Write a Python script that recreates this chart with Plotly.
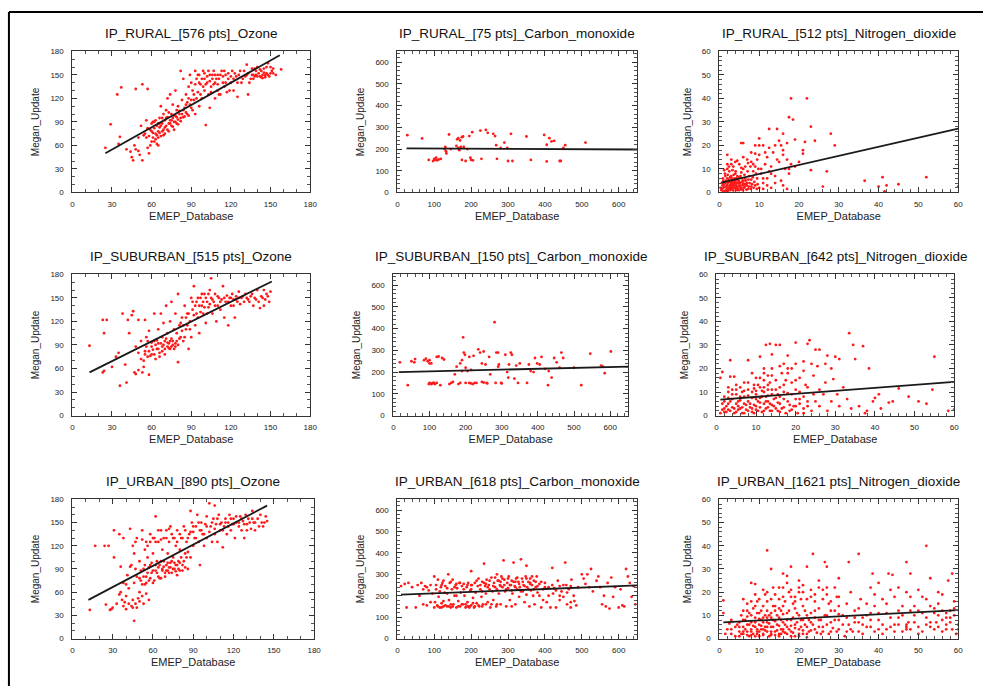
import plotly.graph_objects as go

# ---------------- data ----------------
rural_o3 = [(25,57),(29,87),(34,125),(37,134),(35,62),(36,71),(41,55),(45,45),(46,41),(48,132),(48,55),(50,53),(51,48),(53,138),(53,41),(54,73),(55,75),(56,92),(57,132),(57,57),(58,50),(59,60),(60,78),(60,88),(61,70),(62,82),(62,65),(63,75),(63,92),(64,62),(64,85),(65,70),(65,78),(66,95),(66,83),(67,72),(67,110),(68,88),(69,100),(69,80),(70,92),(70,75),(71,85),(71,105),(72,96),(72,120),(73,88),(73,78),(74,92),(74,125),(75,100),(75,85),(76,95),(76,112),(77,90),(77,80),(78,98),(78,130),(79,105),(79,88),(80,93),(80,110),(81,100),(82,155),(82,95),(83,118),(84,105),(84,145),(85,97),(86,125),(86,112),(87,100),(88,135),(88,120),(89,150),(90,108),(90,140),(91,130),(92,118),(93,155),(93,100),(94,145),(95,128),(96,150),(96,110),(97,138),(98,120),(99,155),(100,145),(100,130),(101,86),(102,140),(103,125),(104,150),(104,108),(105,135),(106,145),(107,155),(108,120),(108,140),(110,150),(110,130),(111,145),(112,125),(113,155),(114,140),(115,135),(116,150),(117,128),(118,145),(120,140),(121,155),(122,130),(124,148),(125,122),(126,150),(128,140),(130,155),(131,148),(132,163),(133,125),(133,152),(135,145),(136,158),(137,150),(138,148),(139,155),(140,160),(141,152),(142,148),(143,155),(144,150),(145,158),(146,147),(147,152),(148,165),(148,150),(150,160),(151,155),(152,152),(154,150),(158,157)]
rural_o3_more = [(58,72),(59,80),(61,76),(62,90),(63,68),(64,73),(65,88),(66,76),(67,85),(68,78),(68,95),(69,73),(70,83),(71,95),(72,80),(73,102),(74,88),(75,92),(76,84),(77,98),(78,90),(79,96),(80,87),(81,104),(82,91),(83,100),(84,96),(85,108),(86,102),(87,115),(88,98),(89,112),(90,118),(91,105),(92,125),(93,138),(94,120),(95,150),(96,140),(97,125),(98,145),(99,135),(100,152),(101,138),(102,148),(103,155),(104,142),(105,128),(106,150),(107,138),(108,150),(109,145),(110,138),(111,125),(112,150),(114,148),(115,155),(116,140),(118,152),(119,130),(120,148),(122,145),(123,152),(125,140),(127,155),(129,145),(132,150),(134,140),(136,150),(138,158),(140,148),(142,157),(144,146),(146,150),(147,160),(149,148),(150,152),(152,158),(145,153),(143,147),(139,150),(137,145),(56,70),(57,82),(60,65),(61,90),(65,60),(66,88),(52,85),(50,70),(47,60),(44,52)]
rural_o3_fit_x = [25, 157]
rural_o3_fit_y = [50, 175]

rural_co = [(27,264),(67,249),(85,150),(97,145),(100,155),(103,150),(105,160),(108,148),(112,152),(118,155),(128,200),(130,210),(132,190),(133,180),(140,267),(145,200),(160,215),(162,245),(165,250),(165,205),(167,200),(168,195),(170,240),(172,210),(175,255),(178,258),(175,150),(180,210),(185,145),(190,200),(195,260),(198,160),(200,150),(203,278),(205,148),(225,285),(228,155),(240,288),(245,275),(260,270),(265,260),(268,218),(270,155),(280,205),(290,230),(298,205),(300,145),(308,270),(312,145),(350,258),(362,150),(398,265),(405,220),(405,143),(412,250),(418,235),(425,238),(440,145),(443,145),(450,205),(455,218),(510,230)]
rural_co_more = []
rural_co_fit_x = [25, 650]
rural_co_fit_y = [203, 198]

rural_no2 = [(18,40),(22,40),(17.5,32),(18.5,31),(23,28),(28,25),(24,22),(29,20),(27,9),(23,9.5),(26,2.5),(36.5,5),(40,2.5),(41,6.5),(42,3),(41.5,0.5),(45,3.5),(52,6.5),(60,2.5),(21,18),(21,16.5),(21.5,21.5),(19,22.5),(16,25),(17,21),(12.5,27),(14.5,27),(14,20),(15,22),(10,23),(11,20),(9,20),(12,15),(8,13),(6,21),(5.5,21),(2,16),(3,14),(17.5,10),(17,1.5),(18,12),(13,2),(11,1.5),(16,3),(17.5,8),(0.5,1),(0.8,3),(1,2),(1,5),(1.2,0.5),(1.5,4),(1.5,7),(1.8,2),(2,3),(2,6),(2.2,1),(2.5,4.5),(2.5,9),(2.8,2.5),(3,5),(3,1.5),(3,7),(3.2,3.5),(3.5,4),(3.5,11),(3.5,0.8),(3.8,6),(4,2),(4,4.5),(4,8),(4.2,3),(4.5,5.5),(4.5,1),(4.8,3.8),(5,2.5),(5,6.5),(5,12),(5.2,4),(5.5,1.5),(5.5,8.5),(5.8,3),(6,5),(6,10),(6.2,2),(6.5,6),(6.5,3.5),(7,4),(7,14),(7.2,1.5),(7.5,7),(8,2.5),(8,5.5),(8.5,9),(9,3),(9,11),(9.5,6),(10,2),(10,16),(10.5,8),(11,4),(11.5,12),(12,6),(12.5,9),(13,11),(13.5,17),(14,7),(15,13),(15.5,5),(16,18),(16.5,10),(17,14),(19,11),(20,13),(3,12),(2,10),(4.5,13.5),(6.5,11),(8,17),(9.5,14),(1,0.3),(2,0.5),(3.5,2.5),(4.5,7),(5.5,2),(6,3.5),(3,3),(2.5,2),(4,5),(5,1),(3.7,4),(4.3,1.7),(2.7,6.5)]
rural_no2_more = [(0.3,2),(0.6,4),(0.7,1.5),(0.9,6),(1.1,3.5),(1.3,2.5),(1.4,8),(1.6,1),(1.7,5),(1.9,3),(2.1,4),(2.1,7.5),(2.3,2),(2.4,5.5),(2.6,3),(2.7,1),(2.9,4),(3.1,6),(3.1,2.2),(3.3,4.8),(3.4,1.2),(3.6,3.2),(3.6,7.5),(3.8,2),(3.9,5),(4.1,3.8),(4.1,9),(4.3,6),(4.4,2.5),(4.6,4.2),(4.7,1.5),(4.9,5),(5.1,3),(5.3,7),(5.4,2),(5.6,4.5),(5.7,6),(5.9,1),(6.1,3.8),(6.3,7.5),(6.4,2.5),(6.6,5),(6.8,1.2),(6.9,3),(7.1,9),(7.3,5.5),(7.4,2.5),(7.6,4),(7.8,11),(7.9,1.5),(8.2,3.5),(8.4,6.5),(8.6,2),(8.8,4.5),(9.2,8),(9.4,1.5),(9.6,3.5),(9.8,10),(2,12),(4,13),(6,15),(8.5,12),(3.3,9.5),(5.5,10.5),(1.2,9.5),(2.4,11),(7.2,12.5),(11,6),(12,3),(13,8),(14,4),(10.5,10),(11.5,17),(12.5,19),(14.5,14),(15.5,20),(16,16),(9,16.5),(10,20)]
rural_no2_fit_x = [0.5, 60]
rural_no2_fit_y = [4.2, 27.2]

suburban_o3 = [(13,89),(23,122),(24,105),(26,122),(23,55),(24,57),(30,62),(33,75),(35,80),(36,38),(38,130),(40,65),(41,42),(42,122),(43,105),(45,128),(46,133),(47,55),(48,53),(48,88),(50,122),(50,80),(52,95),(53,55),(54,70),(55,82),(55,122),(56,100),(57,75),(58,52),(58,108),(60,88),(60,78),(62,95),(62,130),(63,72),(64,85),(65,110),(65,92),(66,80),(67,130),(68,88),(68,100),(69,118),(70,95),(70,78),(71,140),(72,105),(72,88),(73,92),(74,120),(74,85),(75,98),(75,145),(76,90),(77,110),(78,88),(78,130),(79,95),(80,68),(80,155),(81,115),(82,100),(83,125),(84,95),(85,140),(86,110),(87,130),(88,85),(89,120),(90,150),(90,100),(91,135),(92,165),(93,115),(94,145),(95,125),(96,105),(97,150),(98,140),(99,130),(100,155),(101,118),(102,145),(103,138),(104,160),(105,175),(105,150),(106,130),(107,145),(108,155),(109,120),(110,140),(111,150),(112,135),(113,148),(114,165),(115,125),(116,145),(117,153),(118,115),(119,150),(120,140),(121,155),(122,148),(123,125),(124,152),(125,145),(126,158),(128,150),(130,145),(131,155),(133,148),(135,152),(137,140),(138,150),(140,160),(141,145),(142,137),(144,150),(145,140),(146,148),(148,152),(150,158)]
suburban_o3_more = [(55,78),(56,88),(57,95),(58,82),(59,76),(60,93),(61,84),(62,78),(63,90),(64,96),(65,85),(66,75),(67,92),(68,82),(69,90),(70,85),(71,98),(72,93),(73,86),(74,95),(75,88),(76,95),(77,85),(78,92),(79,105),(80,90),(81,98),(82,118),(83,108),(84,115),(85,100),(86,125),(87,115),(88,130),(89,110),(91,145),(92,128),(93,140),(94,130),(95,150),(96,140),(97,132),(98,155),(99,145),(100,138),(101,150),(102,130),(103,155),(104,142),(106,148),(108,140),(110,152),(112,145),(115,150),(118,145),(120,150),(122,140),(124,148),(126,150),(127,142),(129,152),(132,150),(134,145),(136,155),(139,148),(143,152),(145,160),(147,155),(149,145),(52,72),(50,58),(54,62)]
suburban_o3_fit_x = [13, 151]
suburban_o3_fit_y = [55, 171]

suburban_co = [(18,245),(40,140),(50,250),(58,245),(60,260),(85,255),(90,262),(95,250),(100,240),(100,255),(105,240),(100,150),(103,148),(105,145),(108,148),(112,150),(115,145),(120,270),(125,272),(130,140),(135,265),(140,258),(155,145),(165,155),(170,190),(175,225),(180,145),(185,240),(190,255),(193,360),(195,290),(198,280),(200,220),(200,150),(205,205),(210,270),(215,210),(220,145),(222,275),(225,150),(235,305),(240,290),(245,240),(250,295),(255,235),(258,150),(265,270),(268,190),(280,430),(283,150),(285,290),(290,225),(292,235),(298,150),(310,280),(315,200),(318,175),(320,235),(325,290),(328,280),(335,170),(340,230),(345,150),(350,240),(370,150),(375,235),(380,205),(388,200),(392,265),(398,240),(405,235),(410,270),(420,215),(428,140),(430,205),(438,175),(445,265),(452,245),(465,290),(470,265),(520,140),(545,285),(575,230),(580,225),(585,195),(602,295),(500,220),(460,220)]
suburban_co_more = [(98,145),(110,150),(210,150),(215,148),(230,150),(250,152),(260,148),(300,148),(120,150),(190,205),(245,155),(290,290),(185,150),(160,150)]
suburban_co_fit_x = [15, 650]
suburban_co_fit_y = [200, 225]

suburban_no2 = [(33.5,35),(34.5,30),(35,24),(37,29.5),(38.5,20),(55,25),(54.5,11),(46,11.5),(48.5,8),(51,6),(53,5),(58.5,2),(60,2.5),(43.5,5.5),(44.5,6),(41.5,3),(41,9),(40,7.5),(39.5,6),(37.5,1),(38,2),(36,4),(33,7),(34,3),(30.5,9),(31,4),(27,9),(28,2),(29,6),(29.5,15.5),(29,20),(31,24),(30,25),(28,25.5),(27.5,22),(25,28),(26,28),(23.5,32),(23,30.5),(24,22),(25.5,21),(22,19),(22.5,13),(20,31),(19,20),(18,25.5),(17,22),(16,30),(15,30),(13.5,30.5),(12.5,30),(8,23.5),(3.5,23.5),(1,16),(1.5,18.5),(3.5,16.5),(4.5,16.5),(9,18),(11,25),(12,20),(14,26),(15,15),(16,12),(18,18),(20,15),(21,10),(23,12),(24.5,17),(26,11),(27.5,14),(32,12),(1,1),(1.5,5),(2,3),(2,8),(2.5,1.5),(3,5),(3,10),(3.5,2),(4,7),(4,3.5),(4.5,1),(5,5),(5,9),(5.5,2.5),(6,6.5),(6,12),(6.5,3.5),(7,1),(7,8),(7.5,4.5),(8,2),(8,6),(8,11),(8.5,3.5),(9,7.5),(9,1.5),(9.5,4.5),(10,9),(10,2.5),(10.5,6),(10.5,13),(11,3.5),(11,7.5),(11.5,1.5),(11.5,10.5),(12,5),(12,15),(12.5,3),(12.5,8),(13,6),(13,11),(13.5,2),(14,4.5),(14,9),(14.5,7),(15,3),(15,11),(15.5,5.5),(16,8),(16,1.5),(17,3.5),(17,10),(18,6),(18.5,2),(19,9),(19.5,4),(20,7),(20.5,1),(21,5),(22,3),(23,6),(24,2),(24.5,9),(26,4),(16.5,18),(14,20),(13,17),(11,16),(9.5,13),(7,14),(5,11),(3,12),(6.5,10),(10,10.5),(12,12),(13.5,14),(17.5,15)]
suburban_no2_more = [(2,1.5),(2.5,4),(3,2.5),(3.5,6),(4,9),(4.5,3),(5,1.5),(5.5,6),(6,3),(6.5,1),(7,5),(7,10.5),(7.5,2.5),(8,8.5),(8.5,5),(9,3),(9,10),(9.5,1),(10,4),(10,7),(10.5,2),(11,5.5),(11,12),(11.5,8),(12,2),(12,10),(12.5,6),(13,3.5),(13,8.5),(13.5,5),(14,2),(14,11),(14.5,4),(15,7.5),(15.5,2),(15.5,9),(16,5),(16.5,3),(17,7),(17.5,1),(18,9.5),(18.5,4.5),(19,2.5),(20,4),(20,11),(21,7),(22,1),(22,8),(23,4),(25,6),(6,8),(5,13),(8,14),(10,16),(12,18),(14,17),(16,21),(18,20),(20,22),(22,23),(19,14),(21,16),(17,13),(13,13),(9.5,11.5),(4,11),(2,6),(1.5,2.5),(3,7.5),(5.5,4)]
suburban_no2_fit_x = [1, 60]
suburban_no2_fit_y = [6.8, 14.3]

urban_o3 = [(13,37),(17,120),(24,120),(25,44),(27,120),(28,37),(29,38),(30,40),(31,105),(31,140),(33,45),(35,135),(35,57),(36,93),(37,50),(38,130),(38,72),(39,47),(40,38),(40,55),(41,82),(42,65),(43,142),(43,93),(44,42),(45,40),(45,120),(46,72),(46,23),(47,45),(47,90),(48,130),(48,80),(49,52),(50,60),(50,100),(51,75),(52,55),(52,140),(53,90),(54,70),(55,80),(55,125),(56,105),(57,50),(57,75),(58,95),(58,135),(59,85),(60,72),(60,110),(61,130),(62,88),(62,158),(63,100),(64,80),(64,125),(65,95),(66,140),(66,78),(67,90),(67,115),(68,130),(68,100),(69,85),(70,95),(70,140),(71,110),(71,88),(72,125),(72,92),(73,98),(73,145),(74,85),(75,105),(75,130),(76,90),(77,120),(77,95),(78,82),(78,140),(79,100),(80,88),(80,115),(81,130),(82,95),(83,145),(84,110),(85,125),(86,90),(87,135),(88,165),(88,105),(89,150),(90,120),(90,138),(91,130),(92,145),(93,160),(94,125),(95,140),(95,95),(96,150),(97,135),(98,120),(99,148),(100,158),(100,130),(102,175),(103,145),(104,125),(105,155),(106,172),(106,135),(107,148),(108,125),(109,160),(110,140),(111,150),(112,118),(113,145),(114,155),(115,135),(116,150),(117,160),(118,140),(119,148),(120,155),(121,130),(122,150),(124,145),(125,158),(126,140),(127,152),(128,130),(129,160),(130,148),(131,155),(133,142),(134,165),(135,150),(136,140),(138,155),(140,160),(141,150),(142,145),(144,158),(145,152)]
urban_o3_more = [(50,78),(51,88),(52,70),(53,80),(54,95),(55,72),(56,85),(57,92),(58,78),(59,98),(60,88),(61,75),(62,95),(63,85),(64,92),(65,78),(66,100),(67,88),(68,93),(69,80),(70,88),(71,98),(72,85),(73,92),(74,100),(75,90),(76,98),(77,87),(78,95),(79,90),(80,98),(81,105),(82,88),(83,100),(84,92),(85,105),(86,112),(55,58),(53,45),(50,48),(48,40),(45,50),(42,45),(40,70),(38,42),(36,60),(60,130),(62,125),(64,140),(66,128),(70,130),(72,142),(74,135),(76,130),(78,125),(80,135),(82,130),(84,140),(86,130),(88,138),(90,145),(92,130),(94,150),(96,140),(98,135),(100,145),(102,138),(104,150),(106,142),(108,155),(110,148),(112,140),(114,150),(116,145),(118,155),(120,148),(122,158),(124,150),(126,155),(128,148),(130,140),(132,150),(134,155),(136,150),(139,145),(143,150),(56,120),(58,125),(54,115),(52,128),(47,125),(46,110),(44,95)]
urban_o3_fit_x = [12, 145]
urban_o3_fit_y = [50, 172]

urban_co = [(10,245),(20,255),(25,145),(30,260),(40,240),(50,145),(55,250),(60,200),(65,260),(70,160),(75,245),(80,155),(85,225),(90,250),(95,210),(100,145),(100,290),(102,170),(105,250),(108,155),(110,275),(112,195),(115,145),(118,240),(120,165),(122,260),(125,150),(128,215),(130,245),(135,150),(138,300),(140,180),(142,260),(145,145),(148,230),(150,275),(152,160),(155,200),(158,250),(160,145),(162,235),(165,175),(168,260),(170,150),(172,215),(175,245),(178,160),(180,255),(182,200),(185,145),(188,240),(190,170),(192,260),(195,150),(198,225),(200,315),(200,155),(202,250),(205,190),(208,145),(210,260),(212,215),(215,165),(218,245),(220,280),(222,150),(225,230),(228,195),(230,265),(232,160),(235,350),(238,245),(240,210),(242,275),(245,170),(248,250),(250,230),(252,145),(255,285),(258,220),(260,180),(262,260),(265,240),(268,150),(270,300),(272,270),(275,210),(278,250),(280,160),(282,290),(285,240),(288,365),(290,275),(292,220),(295,150),(298,260),(300,235),(302,290),(305,180),(308,250),(310,270),(312,210),(315,355),(318,245),(320,160),(322,280),(325,230),(328,265),(330,195),(332,240),(335,370),(338,280),(340,220),(342,250),(345,170),(348,290),(350,340),(352,240),(355,265),(358,150),(360,280),(362,225),(365,250),(368,200),(370,270),(372,160),(375,240),(378,290),(380,215),(385,255),(390,145),(395,230),(400,260),(405,170),(410,240),(415,145),(420,330),(422,210),(425,235),(430,145),(435,270),(440,245),(445,220),(450,195),(455,355),(458,250),(460,160),(465,230),(470,145),(472,275),(478,200),(485,155),(490,240),(500,300),(505,280),(510,255),(515,300),(520,240),(525,325),(530,220),(540,270),(545,290),(550,240),(555,160),(560,200),(565,150),(570,260),(575,140),(580,285),(585,195),(590,240),(600,145),(605,230),(610,155),(615,150),(620,325),(625,290),(630,260),(635,195),(640,245),(645,160)]
urban_co_more = [(105,230),(110,150),(115,220),(120,250),(125,175),(130,155),(135,235),(140,150),(145,265),(150,150),(155,240),(160,200),(165,150),(170,260),(175,160),(180,230),(185,160),(190,250),(195,145),(200,230),(205,165),(210,150),(215,270),(220,155),(225,250),(230,150),(235,260),(240,160),(245,240),(250,270),(255,160),(260,245),(265,285),(270,230),(275,270),(280,245),(285,280),(290,250),(295,230),(300,280),(305,250),(310,225),(315,265),(320,240),(325,285),(330,255),(335,220),(340,265),(345,245),(350,280),(355,230),(360,255),(365,290),(370,230),(375,265),(380,245),(385,200),(390,265),(395,180),(400,240),(410,200),(420,250),(430,225),(440,200),(450,250),(460,215),(470,245),(480,175),(440,180),(470,170),(90,170),(80,240),(70,230),(120,145),(160,255),(200,250),(240,255),(280,265),(320,265),(360,260),(190,150),(230,220),(270,160),(310,150),(350,205),(125,270),(135,210),(145,160)]
urban_co_fit_x = [10, 650]
urban_co_fit_y = [205, 248]

urban_no2 = [(1,16.5),(1,11),(12,38),(23.5,36.5),(35,36.5),(52,40),(47,33),(48,28),(57.5,25),(58.5,28),(59,16),(53,26),(26.5,33),(27,31),(32.5,33),(38.5,28),(42.5,28),(43.5,27.5),(40,24),(30,26),(25,25),(20,25),(22,31),(13,30),(16,28),(17,27),(18,31),(8,24),(9,23.5),(6,17),(7,15),(50,21),(51,18),(55,20),(56,19),(45,22),(47,20),(49,14),(54,13),(57,11),(59,13),(60,6),(60,4),(58,9),(56,8),(53,5),(50,5),(47,4),(45,9),(43,5),(40,4),(38,11),(36,6),(34,9),(32,3),(30,8),(2,4),(3,2),(3,8),(4,5),(4,1),(5,3),(5,7),(5.5,10),(6,2),(6,5),(6.5,8),(7,3),(7,6),(7.5,1),(7.5,11),(8,4),(8,7),(8.5,2),(8.5,13),(9,5),(9,9),(9.5,3),(9.5,16),(10,1),(10,6),(10,11),(10.5,4),(10.5,8),(11,2),(11,14),(11.5,5),(11.5,19),(12,7),(12,3),(12.5,10),(13,1.5),(13,5),(13.5,8),(13.5,22),(14,3),(14,12),(14.5,6),(15,2),(15,9),(15,17),(15.5,4),(16,7),(16,14),(16.5,2.5),(17,5),(17,11),(17.5,20),(18,3),(18,8),(18.5,15),(19,6),(19,1),(19.5,11),(20,4),(20,22),(20.5,8),(21,2),(21,14),(21.5,6),(22,10),(22.5,3),(23,18),(23,7),(24,4),(24,12),(25,8),(25.5,2),(26,21),(26,5),(27,10),(27.5,15),(28,3),(28,7),(29,12),(29.5,18),(30,4),(31,10),(31.5,1),(32,15),(32.5,6),(33,20),(33.5,3),(34,12),(35,7),(35.5,17),(36,2),(37,10),(38,22),(38,5),(39,14),(40,8),(41,2),(41,17),(42,11),(43,21),(44,6),(45,12),(46,3),(47,5),(47.5,7),(48,18),(49,10),(50,2),(51,11),(52,6),(53,14),(54,4),(54.5,7),(55,10),(56,3),(57,6),(58,12),(58.5,4),(59.5,2),(6,12),(9,19),(12,16),(16,22),(19,18),(21,20),(24,16),(27,22),(30,14),(13,9),(14,14),(15.5,12),(11,9),(12,12)]
urban_no2_more = [(5,5),(5.5,2),(6,8),(6.5,4),(7,1.5),(7,9.5),(7.5,6),(8,3),(8,10),(8.5,5.5),(9,1),(9,7),(9.5,4),(9.5,11),(10,3),(10,8.5),(10.5,5.5),(10.5,12),(11,1.5),(11,7),(11.5,3.5),(11.5,10),(12,5),(12,9),(12.5,1),(12.5,6.5),(13,3),(13,11),(13.5,5),(13.5,14),(14,1.5),(14,7.5),(14.5,3.5),(14.5,10),(15,5.5),(15,13),(15.5,2),(15.5,8),(16,4),(16,10.5),(16.5,6),(16.5,16),(17,2),(17,8),(17.5,4),(17.5,12),(18,5.5),(18,18),(18.5,2.5),(18.5,9),(19,4.5),(19,13),(19.5,7),(20,2),(20,10),(20.5,5),(20.5,17),(21,3.5),(21,8),(21.5,12),(22,5),(22,2),(22.5,8),(23,11),(23,3.5),(23.5,6),(24,9),(24.5,2.5),(25,5),(25,13),(25.5,8),(26,3),(26.5,10),(27,6),(27.5,2),(28,12),(28.5,4.5),(29,8),(29.5,3),(30,10.5),(7,12),(8,16),(9,14),(10,17),(11,21),(12,20),(13,17),(14,19),(15,22),(16,18),(17,24),(18,21),(19,16),(20,20),(21,23),(22,17),(23,21),(24,19),(25,22),(26,17),(27,19),(28,16),(29,22),(30,18),(31,6),(32,9),(33,4),(34,7),(35,3),(36,9),(37,5),(38,8),(39,3),(40,11),(41,6),(42,4),(43,9),(44,3),(45,6),(46,10),(47,6),(48,4),(49,7),(50,12),(51,3),(52,9),(53,7),(54,11),(55,5),(56,12),(57,4),(58,7),(59,10),(35,13),(37,15),(39,19),(42,15),(44,18),(46,14),(48,12),(52,17),(55,15),(57,9),(5,1),(6,3),(8,1.5),(9.5,2),(11,4),(13,2),(15,1),(16,3),(18,1),(20,1),(22,0.5),(4.5,6),(3,4),(2.5,6.5),(1.5,2)]
urban_no2_fit_x = [1, 60]
urban_no2_fit_y = [7, 12.3]

titles = ["IP_RURAL_[576 pts]_Ozone", "IP_RURAL_[75 pts]_Carbon_monoxide", "IP_RURAL_[512 pts]_Nitrogen_dioxide",
          "IP_SUBURBAN_[515 pts]_Ozone", "IP_SUBURBAN_[150 pts]_Carbon_monoxide", "IP_SUBURBAN_[642 pts]_Nitrogen_dioxide",
          "IP_URBAN_[890 pts]_Ozone", "IP_URBAN_[618 pts]_Carbon_monoxide", "IP_URBAN_[1621 pts]_Nitrogen_dioxide"]
x_label = "EMEP_Database"
y_label = "Megan_Update"

panels = [
    (rural_o3 + rural_o3_more, rural_o3_fit_x, rural_o3_fit_y, "o3"),
    (rural_co + rural_co_more, rural_co_fit_x, rural_co_fit_y, "co"),
    (rural_no2 + rural_no2_more, rural_no2_fit_x, rural_no2_fit_y, "no2"),
    (suburban_o3 + suburban_o3_more, suburban_o3_fit_x, suburban_o3_fit_y, "o3"),
    (suburban_co + suburban_co_more, suburban_co_fit_x, suburban_co_fit_y, "co"),
    (suburban_no2 + suburban_no2_more, suburban_no2_fit_x, suburban_no2_fit_y, "no2"),
    (urban_o3 + urban_o3_more, urban_o3_fit_x, urban_o3_fit_y, "o3"),
    (urban_co + urban_co_more, urban_co_fit_x, urban_co_fit_y, "co"),
    (urban_no2 + urban_no2_more, urban_no2_fit_x, urban_no2_fit_y, "no2"),
]

# ---------------- layout / style ----------------
W, H = 983, 686
scales = {"o3": (180, 30, 10), "co": (650, 100, 20), "no2": (60, 10, 2)}
# pixel boxes (left, right, top, bottom)
boxes = [
    (71, 311, 48, 191), (399, 641, 48, 191), (724, 965, 48, 191),
    (71, 311, 274, 417), (395, 632, 274, 417), (721, 961, 274, 417),
    (71, 315, 502, 643), (399, 641, 502, 643), (724, 965, 502, 643),
]
FONT = "Liberation Sans, Arial, Helvetica, sans-serif"

fig = go.Figure()
layout = dict(width=W, height=H, margin=dict(l=0, r=0, t=0, b=0),
              paper_bgcolor="white", plot_bgcolor="white", showlegend=False,
              font=dict(family=FONT, color="#222"))
annotations = []
for i, (pts, fx, fy, kind) in enumerate(panels):
    n = i + 1
    xa = "x" if n == 1 else f"x{n}"
    ya = "y" if n == 1 else f"y{n}"
    xs = [p[0] for p in pts]
    ys = [p[1] for p in pts]
    fig.add_trace(go.Scatter(x=xs, y=ys, mode="markers", xaxis=xa, yaxis=ya,
                             marker=dict(color="#ff1a1a", size=2.8, line=dict(width=0))))
    fig.add_trace(go.Scatter(x=fx, y=fy, mode="lines", xaxis=xa, yaxis=ya,
                             line=dict(color="#1a1a1a", width=1.8)))
    l, r, t, b = boxes[i]
    vmax, dt, mdt = scales[kind]
    common = dict(range=[0, vmax], dtick=dt, tick0=0, showgrid=False, zeroline=False,
                  showline=True, linecolor="#333", linewidth=1, mirror="allticks",
                  ticks="inside", ticklen=5, tickwidth=1, tickcolor="#333",
                  minor=dict(ticks="inside", ticklen=3, dtick=mdt, tickcolor="#555", tickwidth=0.8),
                  tickfont=dict(size=8, family=FONT, color="#222"), fixedrange=True)
    layout["xaxis" if n == 1 else f"xaxis{n}"] = dict(
        domain=[l / W, r / W], anchor=ya,
        title=dict(text=x_label, font=dict(size=11, family=FONT, color="#222"), standoff=4),
        ticklabelstandoff=4, **common)
    layout["yaxis" if n == 1 else f"yaxis{n}"] = dict(
        domain=[1 - b / H, 1 - t / H], anchor=xa,
        title=dict(text=y_label, font=dict(size=10, family=FONT, color="#222"), standoff=8),
        ticklabelstandoff=6, **common)
    annotations.append(dict(text=titles[i], x=(l + r) / 2 / W, y=1 - (t - 18) / H,
                            xref="paper", yref="paper", xanchor="center", yanchor="middle",
                            showarrow=False, font=dict(size=13.5, family=FONT, color="#111")))

layout["annotations"] = annotations
layout["shapes"] = [
    dict(type="line", xref="paper", yref="paper", x0=7 / W, x1=1.01, y0=1 - 8 / H, y1=1 - 8 / H,
         line=dict(color="black", width=2)),
    dict(type="line", xref="paper", yref="paper", x0=7 / W, x1=7 / W, y0=1 - 8 / H, y1=-0.01,
         line=dict(color="black", width=2)),
]
fig.update_layout(**layout)
fig.write_html("out.html")
